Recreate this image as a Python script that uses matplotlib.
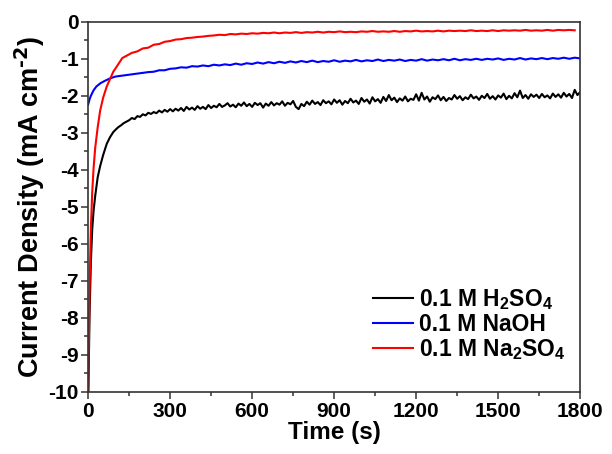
import numpy as np
import matplotlib
matplotlib.use("Agg")
import matplotlib.pyplot as plt
from matplotlib.ticker import MultipleLocator

plt.rcParams['font.family'] = ['Liberation Sans', 'DejaVu Sans']
plt.rcParams['font.weight'] = 'bold'
plt.rcParams['mathtext.default'] = 'regular'
plt.rcParams['axes.unicode_minus'] = False

# ---- data ----
# H2SO4 (black)
h2so4_early_t = [1, 5, 10, 15, 20, 26, 35, 44, 55, 68, 80, 92]
h2so4_early_j = [-10.0, -8.0, -6.5, -5.6, -5.1, -4.7, -4.2, -3.9, -3.6, -3.3, -3.12, -2.98]
h2so4_start, h2so4_step = 100, 10
h2so4_j = [
    -2.92, -2.85, -2.80, -2.74, -2.70, -2.66, -2.60, -2.63, -2.55, -2.57,
    -2.50, -2.53, -2.46, -2.49, -2.44, -2.47, -2.40, -2.45, -2.38, -2.43,
    -2.36, -2.42, -2.35, -2.40, -2.33, -2.41, -2.30, -2.37, -2.32, -2.38,
    -2.28, -2.35, -2.30, -2.36, -2.25, -2.33, -2.27, -2.31, -2.22, -2.30,
    -2.26, -2.20, -2.29, -2.24, -2.31, -2.21, -2.27, -2.18, -2.28, -2.22,
    -2.30, -2.19, -2.25, -2.20, -2.32, -2.21, -2.27, -2.17, -2.26, -2.20,
    -2.24, -2.15, -2.27, -2.19, -2.23, -2.14, -2.30, -2.36, -2.22, -2.28,
    -2.16, -2.24, -2.13, -2.22, -2.17, -2.25, -2.12, -2.20, -2.15, -2.23,
    -2.10, -2.19, -2.12, -2.24, -2.14, -2.20, -2.08, -2.18, -2.13, -2.22,
    -2.06, -2.16, -2.10, -2.21, -2.04, -2.15, -2.09, -2.19, -2.03, -2.14,
    -1.98, -2.12, -2.05, -2.17, -2.07, -2.13, -2.02, -2.15, -2.08, -2.11,
    -1.96, -2.13, -1.92, -2.10, -2.02, -2.16, -2.04, -2.09, -1.99, -2.12,
    -2.03, -2.14, -2.06, -2.10, -1.98, -2.08, -2.01, -2.12, -2.04, -2.09,
    -1.97, -2.07, -2.02, -2.11, -2.00, -2.06, -1.95, -2.08, -2.01, -2.10,
    -1.99, -2.05, -1.94, -2.09, -2.00, -2.07, -1.93, -2.04, -1.86, -2.06,
    -1.98, -2.08, -1.96, -2.03, -1.97, -2.06, -1.95, -2.04, -1.99, -2.07,
    -1.94, -2.03, -1.96, -2.05, -1.92, -2.02, -1.95, -2.06, -1.84, -1.98,
    -1.90,
]

# NaOH (blue)
naoh_early_t = [0, 5, 10, 20, 30, 45, 60, 80, 100]
naoh_early_j = [-2.24, -2.10, -2.00, -1.85, -1.75, -1.66, -1.60, -1.53, -1.48]
naoh_start, naoh_step = 120, 20
naoh_j = [
    -1.46, -1.44, -1.42, -1.40, -1.38, -1.36, -1.35, -1.31, -1.31, -1.27,
    -1.26, -1.23, -1.24, -1.20, -1.21, -1.18, -1.20, -1.16, -1.18, -1.15,
    -1.17, -1.13, -1.16, -1.12, -1.14, -1.10, -1.13, -1.09, -1.12, -1.08,
    -1.11, -1.07, -1.10, -1.06, -1.09, -1.05, -1.09, -1.06, -1.08, -1.04,
    -1.08, -1.05, -1.07, -1.03, -1.07, -1.04, -1.06, -1.02, -1.06, -1.03,
    -1.05, -1.02, -1.06, -1.03, -1.05, -1.01, -1.05, -1.02, -1.04, -1.01,
    -1.04, -1.00, -1.04, -1.01, -1.03, -1.00, -1.03, -1.00, -1.02, -0.99,
    -1.03, -1.00, -1.02, -0.98, -1.02, -0.99, -1.01, -0.98, -1.01, -0.98,
    -1.00, -0.97, -1.00, -0.97, -0.99,
]

# Na2SO4 (red)
na2so4_early_t = [0, 3, 6, 10, 15, 20, 26, 35, 44, 55, 68, 80, 92, 110, 125]
na2so4_early_j = [-10.0, -8.4, -6.9, -5.6, -4.6, -3.95, -3.4, -2.85, -2.4, -2.05,
                  -1.75, -1.55, -1.35, -1.15, -0.98]
na2so4_start, na2so4_step = 140, 20
na2so4_j = [
    -0.92, -0.84, -0.80, -0.72, -0.70, -0.62, -0.60, -0.54, -0.52, -0.48,
    -0.47, -0.44, -0.43, -0.41, -0.40, -0.38, -0.37, -0.35, -0.36, -0.33,
    -0.34, -0.32, -0.33, -0.31, -0.32, -0.30, -0.31, -0.29, -0.31, -0.29,
    -0.30, -0.28, -0.30, -0.28, -0.29, -0.27, -0.29, -0.27, -0.28, -0.26,
    -0.28, -0.27, -0.28, -0.26, -0.27, -0.25, -0.27, -0.26, -0.27, -0.25,
    -0.27, -0.25, -0.26, -0.24, -0.26, -0.25, -0.26, -0.24, -0.26, -0.24,
    -0.25, -0.24, -0.25, -0.23, -0.25, -0.24, -0.25, -0.23, -0.25, -0.23,
    -0.24, -0.23, -0.24, -0.22, -0.24, -0.23, -0.24, -0.22, -0.24, -0.22,
    -0.23, -0.22, -0.23,
]

labels = ["0.1 M H$_2$SO$_4$", "0.1 M NaOH", "0.1 M Na$_2$SO$_4$"]
colors = ["black", "#0000ff", "#ff0000"]

def series(et, ej, start, step, vals):
    t = list(et) + list(start + step * np.arange(len(vals)))
    return np.array(t), np.array(list(ej) + list(vals))

data = [
    series(h2so4_early_t, h2so4_early_j, h2so4_start, h2so4_step, h2so4_j),
    series(naoh_early_t, naoh_early_j, naoh_start, naoh_step, naoh_j),
    series(na2so4_early_t, na2so4_early_j, na2so4_start, na2so4_step, na2so4_j),
]

fig = plt.figure(figsize=(6.12, 4.54), dpi=100)
ax = fig.add_axes([0.144, 0.137, 0.804, 0.815])

for (t, j), lab, c in zip(data, labels, colors):
    ax.plot(t, j, color=c, lw=1.5, label=lab)

ax.set_xlim(0, 1800)
ax.set_ylim(-10, 0)
ax.xaxis.set_major_locator(MultipleLocator(300))
ax.xaxis.set_minor_locator(MultipleLocator(150))
ax.yaxis.set_major_locator(MultipleLocator(1))
ax.yaxis.set_minor_locator(MultipleLocator(0.5))
ax.tick_params(which='both', direction='out', top=False, right=False, width=1.1, colors='#333333')
ax.tick_params(which='major', length=5, labelsize=15, labelcolor='black', pad=2)
ax.tick_params(which='minor', length=3)
for s in ax.spines.values():
    s.set_linewidth(1.2)
    s.set_color('#333333')

ax.set_xlabel("Time (s)", fontsize=17.5, fontweight='bold', labelpad=0)
ax.set_ylabel(r"Current Density (mA cm$^{\text{-2}}$)", fontsize=19.5, fontweight='bold', labelpad=1)

leg = ax.legend(loc='lower right', frameon=False, fontsize=16.5, handlelength=1.75,
                handletextpad=0.25, labelspacing=0.05, borderaxespad=0.25,
                bbox_to_anchor=(1.0, 0.04))
for txt in leg.get_texts():
    txt.set_fontweight('bold')

fig.savefig("out.png", dpi=100)
